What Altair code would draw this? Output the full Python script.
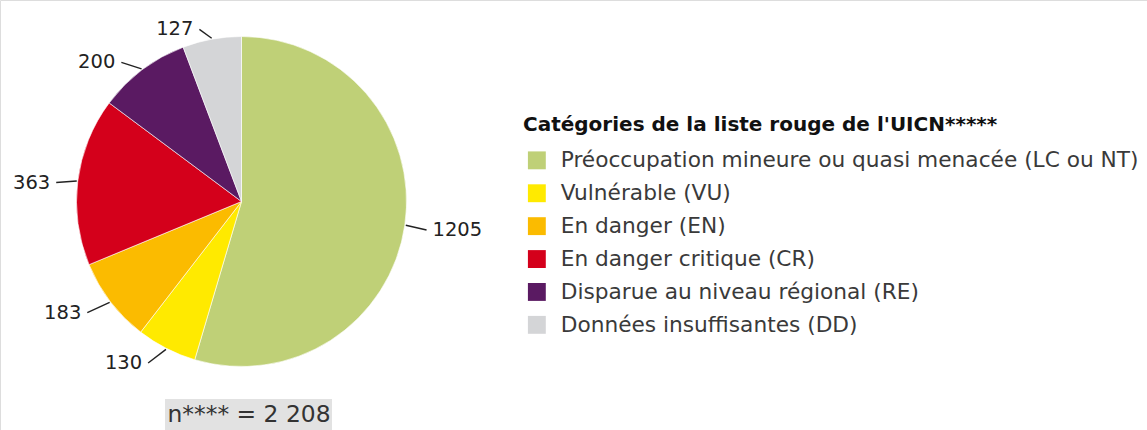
import altair as alt
import pandas as pd

categories = [
    "Préoccupation mineure ou quasi menacée (LC ou NT)",
    "Vulnérable (VU)",
    "En danger (EN)",
    "En danger critique (CR)",
    "Disparue au niveau régional (RE)",
    "Données insuffisantes (DD)",
]
values = [1205, 130, 183, 363, 200, 127]
colors = ["#bfd077", "#ffea00", "#fbbb00", "#d4001b", "#5a1a62", "#d4d5d7"]
legend_title = "Catégories de la liste rouge de l'UICN*****"
total_text = "n**** = 2 208"

df = pd.DataFrame({"cat": categories, "value": values, "idx": list(range(len(values)))})

CX, CY, R = 241.5, 201.5, 165
W, H = 1147, 430
FONT = "DejaVu Sans"

base = alt.Chart(df)

pie = base.mark_arc(outerRadius=R, stroke="white", strokeWidth=0.6).encode(
    theta=alt.Theta("value:Q", stack=True),
    order=alt.Order("idx:Q", sort="ascending"),
    color=alt.Color(
        "cat:N",
        scale=alt.Scale(domain=categories, range=colors),
        sort=categories,
        legend=alt.Legend(
            title=legend_title,
            orient="none",
            legendX=523,
            legendY=115,
            titleFont=FONT,
            titleFontSize=20,
            titleFontWeight="bold",
            titleColor="#111111",
            titleLimit=800,
            titlePadding=14.5,
            labelFont=FONT,
            labelFontSize=21.7,
            labelColor="#3a3a3a",
            labelLimit=800,
            labelOffset=13,
            symbolType="square",
            symbolSize=320,
            symbolOffset=3,
            symbolStrokeWidth=0,
            rowPadding=9.9,
        ),
    ),
    x=alt.value(CX),
    y=alt.value(CY),
)

geo = (
    base.transform_window(cum="sum(value)", sort=[{"field": "idx"}], frame=[None, 0])
    .transform_joinaggregate(total="sum(value)")
    .transform_calculate(mid="(datum.cum - datum.value/2) / datum.total * 2 * PI")
    .transform_calculate(
        s="sin(datum.mid)",
        c="cos(datum.mid)",
        sgn="sin(datum.mid) > 0 ? 1 : -1",
    )
    .transform_calculate(
        x1=f"{CX} + {R + 1} * datum.s",
        y1=f"{CY} - {R + 1} * datum.c",
        lx=f"{CX} + datum.sgn * (191 * abs(datum.s) + 14 * abs(datum.c))",
        ly=f"{CY} + 3 - 178 * datum.c",
    )
    .transform_calculate(
        x2="datum.lx - datum.sgn * 6",
        y2="datum.ly",
    )
)

lines = geo.mark_rule(color="#222222", strokeWidth=1.4).encode(
    x=alt.X("x1:Q", scale=None),
    y=alt.Y("y1:Q", scale=None),
    x2="x2:Q",
    y2="y2:Q",
)

txt_right = geo.transform_filter("datum.sgn > 0").mark_text(
    align="left", baseline="middle", font=FONT, fontSize=19.5, color="#222222"
).encode(
    x=alt.X("lx:Q", scale=None),
    y=alt.Y("ly:Q", scale=None),
    text="value:Q",
)

txt_left = geo.transform_filter("datum.sgn < 0").mark_text(
    align="right", baseline="middle", font=FONT, fontSize=19.5, color="#222222"
).encode(
    x=alt.X("lx:Q", scale=None),
    y=alt.Y("ly:Q", scale=None),
    text="value:Q",
)

box = alt.Chart(pd.DataFrame({"t": [total_text]})).mark_rect(color="#e2e2e2").encode(
    x=alt.value(165), x2=alt.value(332), y=alt.value(399), y2=alt.value(430)
)
total = alt.Chart(pd.DataFrame({"t": [total_text]})).mark_text(
    align="center", baseline="middle", font=FONT, fontSize=23.4, color="#333333"
).encode(x=alt.value(249), y=alt.value(415), text="t:N")

chart = (
    alt.layer(pie, lines, txt_left, txt_right, box, total)
    .properties(width=W, height=H, padding=0, autosize=alt.AutoSizeParams(type="none"))
    .configure_view(stroke="transparent", strokeWidth=0)
    .configure(background="white")
)

chart.save("out.html", embed_options={"renderer": "svg", "actions": False})
